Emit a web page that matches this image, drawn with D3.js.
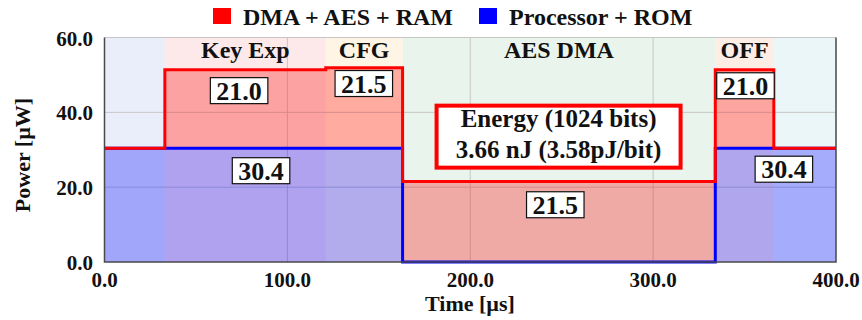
<!DOCTYPE html>
<html>
<head>
<meta charset="utf-8">
<script src="https://cdn.jsdelivr.net/npm/d3@7"></script>
<style>
  body { margin: 0; background: #fff; }
  svg text { font-family: "Liberation Serif", "Times New Roman", serif; font-weight: bold; fill: #111; }
</style>
</head>
<body>
<div id="chart"></div>
<script>
// phases of the power trace
const phases = ["", "Key Exp", "CFG", "AES DMA", "OFF", ""];
const tStart = [0, 33, 121, 163, 334, 366];
const tEnd = [33, 121, 163, 334, 366, 400];
const procRom = [30.4, 30.4, 30.4, 0, 30.4, 30.4];
const dmaAesRam = [0, 21.0, 21.5, 21.5, 21.0, 0];
const phaseColors = ["#e9eefa", "#fde9e9", "#fff5e4", "#e9f4ec", "#fdeee5", "#ebf6f9"];

// value labels [time, power, text]
const dmaLabels = [[73.6, 45.8, "21.0"], [141.8, 47.7, "21.5"], [246.5, 15.3, "21.5"], [350.5, 47.1, "21.0"]];
const procLabels = [[85.6, 24.4, "30.4"], [371.5, 24.8, "30.4"]];
const energyText = ["Energy (1024 bits)", "3.66 nJ (3.58pJ/bit)"];
const energyAt = [248.3, 33.5];

const xTicks = [0, 100, 200, 300, 400];
const yTicks = [0, 20, 40, 60];

const W = 862, H = 320;
const svg = d3.select("#chart").append("svg").attr("width", W).attr("height", H);

const x = d3.scaleLinear().domain([0, 400]).range([104.5, 836]);
const y = d3.scaleLinear().domain([0, 60]).range([262, 37.5]);

const segs = phases.map((p, i) => ({
  name: p, t0: tStart[i], t1: tEnd[i], proc: procRom[i], dma: dmaAesRam[i], color: phaseColors[i]
}));

// backgrounds
svg.append("g").selectAll("rect").data(segs).enter().append("rect")
  .attr("x", d => x(d.t0))
  .attr("width", d => x(d.t1) - x(d.t0))
  .attr("y", y(60))
  .attr("height", y(0) - y(60))
  .attr("fill", d => d.color);

// grid
const grid = svg.append("g").attr("stroke", "#c6c6c6").attr("stroke-width", 1);
yTicks.filter(v => v > 0).forEach(v => {
  grid.append("line").attr("x1", x(0)).attr("x2", x(400)).attr("y1", y(v)).attr("y2", y(v));
});
xTicks.filter(v => v > 0 && v < 400).forEach(v => {
  grid.append("line").attr("x1", x(v)).attr("x2", x(v)).attr("y1", y(0)).attr("y2", y(60));
});

// step points
const pts = [];
segs.forEach(d => {
  pts.push({ t: d.t0, proc: d.proc, dma: d.dma });
  pts.push({ t: d.t1, proc: d.proc, dma: d.dma });
});

svg.append("path").datum(pts)
  .attr("fill", "rgba(0,0,255,0.3)")
  .attr("d", d3.area().x(d => x(d.t)).y0(y(0)).y1(d => y(d.proc)));
svg.append("path").datum(pts)
  .attr("fill", "rgba(255,0,0,0.3)")
  .attr("d", d3.area().x(d => x(d.t)).y0(d => y(d.proc)).y1(d => y(d.proc + d.dma)));

svg.append("path").datum(pts)
  .attr("fill", "none").attr("stroke", "#0000ff").attr("stroke-width", 3)
  .attr("d", d3.line().x(d => x(d.t)).y(d => y(d.proc)));
svg.append("path").datum(pts)
  .attr("fill", "none").attr("stroke", "#ff0000").attr("stroke-width", 3)
  .attr("d", d3.line().x(d => x(d.t)).y(d => y(d.proc + d.dma)));

// axes frame
svg.append("path")
  .attr("d", `M${x(0)},${y(60)}V${y(0)}H${x(400)}V${y(60)}`)
  .attr("fill", "none").attr("stroke", "#4a4a4a").attr("stroke-width", 1.5);

// phase names
svg.append("g").selectAll("text").data(segs.filter(d => d.name)).enter().append("text")
  .attr("x", d => x((d.t0 + d.t1) / 2))
  .attr("y", 58)
  .attr("text-anchor", "middle")
  .attr("font-size", 24)
  .text(d => d.name);

// value boxes
function valueBox(t, v, txt) {
  const g = svg.append("g");
  const r = g.append("rect").attr("fill", "#fff").attr("stroke", "#111").attr("stroke-width", 1.2);
  const tx = g.append("text")
    .attr("x", x(t)).attr("y", y(v) + 9)
    .attr("text-anchor", "middle").attr("font-size", 26).text(txt);
  const b = tx.node().getBBox();
  r.attr("x", b.x - 6).attr("width", b.width + 12)
    .attr("y", y(v) - 13).attr("height", 26);
}
dmaLabels.forEach(d => valueBox(d[0], d[1], d[2]));
procLabels.forEach(d => valueBox(d[0], d[1], d[2]));

// energy annotation
const eg = svg.append("g");
const ex = x(energyAt[0]), ey = y(energyAt[1]);
eg.append("rect")
  .attr("x", ex - 122).attr("y", ey - 31).attr("width", 244).attr("height", 62)
  .attr("fill", "#fff").attr("stroke", "#ff0000").attr("stroke-width", 4);
energyText.forEach((s, i) => {
  eg.append("text").attr("x", ex).attr("y", ey - 9.5 + i * 31)
    .attr("text-anchor", "middle").attr("font-size", 25).text(s);
});

// tick labels
svg.append("g").selectAll("text").data(xTicks).enter().append("text")
  .attr("x", d => x(d)).attr("y", 287)
  .attr("text-anchor", "middle").attr("font-size", 21)
  .text(d => d.toFixed(1));
svg.append("g").selectAll("text").data(yTicks).enter().append("text")
  .attr("x", 93).attr("y", d => y(d) + 8)
  .attr("text-anchor", "end").attr("font-size", 21)
  .text(d => d.toFixed(1));

// axis titles
svg.append("text").attr("x", 470).attr("y", 311)
  .attr("text-anchor", "middle").attr("font-size", 22).text("Time [µs]");
svg.append("text").attr("transform", "translate(30,155) rotate(-90)")
  .attr("text-anchor", "middle").attr("font-size", 22).text("Power [µW]");

// legend
const legend = [["DMA + AES + RAM", "#ff0000", 213], ["Processor + ROM", "#0000ff", 479]];
legend.forEach(l => {
  svg.append("rect").attr("x", l[2]).attr("y", 8).attr("width", 18).attr("height", 16).attr("fill", l[1]);
  svg.append("text").attr("x", l[2] + 30).attr("y", 25).attr("font-size", 24).text(l[0]);
});
</script>
</body>
</html>
